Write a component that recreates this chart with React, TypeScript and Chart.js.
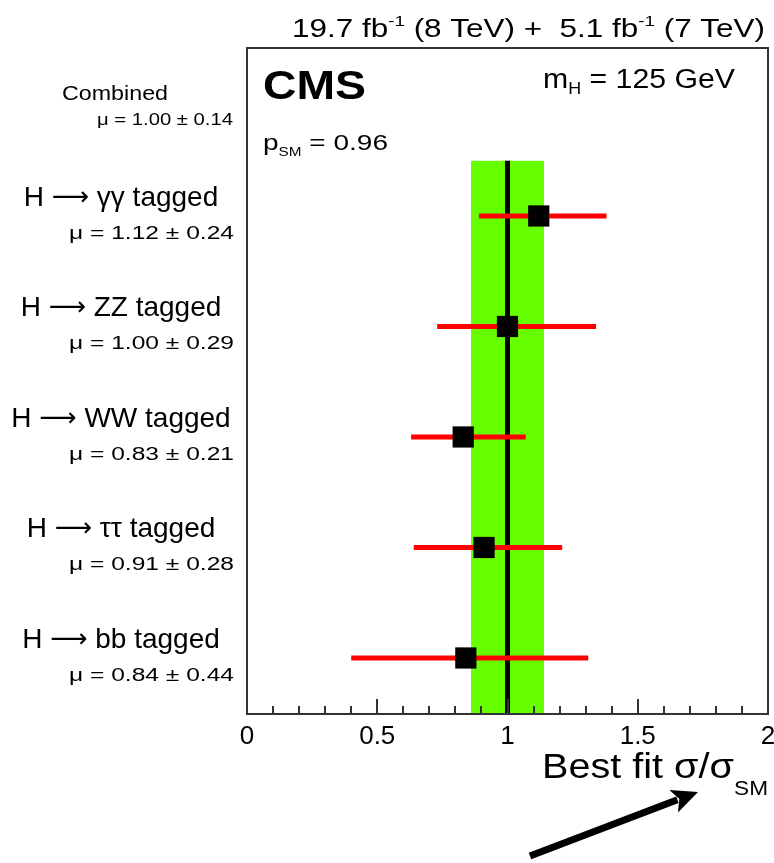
import React, { useEffect, useRef } from 'react';
import { Chart, registerables } from 'chart.js';
Chart.register(...registerables);

// ---------------- data ----------------
const channelHead = 'H';
const channelTails = ['γγ tagged', 'ZZ tagged', 'WW tagged', 'ττ tagged', 'bb tagged'];
const muTexts = ['μ = 1.12 ± 0.24', 'μ = 1.00 ± 0.29', 'μ = 0.83 ± 0.21', 'μ = 0.91 ± 0.28', 'μ = 0.84 ± 0.44'];
const bestFit = [1.12, 1.0, 0.83, 0.91, 0.84];
const errLow = [0.89, 0.73, 0.63, 0.64, 0.4];
const errHigh = [1.38, 1.34, 1.07, 1.21, 1.31];
const combinedLabel = 'Combined';
const combinedMuText = 'μ = 1.00 ± 0.14';
const combinedBest = 1.0;
const combinedBand = [0.86, 1.14];
const xTickValues = [0, 0.5, 1, 1.5, 2];
const xTickLabels = ['0', '0.5', '1', '1.5', '2'];
const pSMValue = '0.96';
const mHValue = '125 GeV';

// ---------------- layout / style ----------------
const FONT = '"Liberation Sans", Arial, Helvetica, sans-serif';
const ARROW_FONT = '"DejaVu Sans", sans-serif';
const Y_MIN = -0.52;
const Y_MAX = 5.507;
const GREEN = '#66ff00';
const RED = '#ff0000';

type Seg = { t: string; size: number; dy?: number; bold?: boolean; family?: string };

function fontOf(s: Seg) {
  return `${s.bold ? 'bold ' : ''}${s.size}px ${s.family || FONT}`;
}

function drawRich(
  ctx: CanvasRenderingContext2D,
  segs: Seg[],
  x: number,
  y: number,
  align: 'left' | 'right' | 'center',
  width?: number
) {
  ctx.save();
  ctx.textBaseline = 'alphabetic';
  ctx.textAlign = 'left';
  ctx.fillStyle = '#000';
  const widths = segs.map((s) => {
    ctx.font = fontOf(s);
    return ctx.measureText(s.t).width;
  });
  const total = widths.reduce((a, b) => a + b, 0);
  const sx = width ? width / total : 1;
  const w = total * sx;
  const x0 = align === 'left' ? x : align === 'right' ? x - w : x - w / 2;
  ctx.translate(x0, y);
  ctx.scale(sx, 1);
  let cx = 0;
  segs.forEach((s, i) => {
    ctx.font = fontOf(s);
    ctx.fillText(s.t, cx, s.dy || 0);
    cx += widths[i];
  });
  ctx.restore();
}

const decorPlugin = {
  id: 'decor',
  afterDraw(chart: any) {
    const ctx: CanvasRenderingContext2D = chart.ctx;
    const { left, right, top, bottom } = chart.chartArea;
    const xs = chart.scales.x;
    const ys = chart.scales.y;

    // inner ticks on the bottom axis
    ctx.save();
    ctx.strokeStyle = '#333';
    ctx.lineWidth = 2;
    for (let k = 1; k < 20; k++) {
      const v = k / 10;
      const px = Math.round(xs.getPixelForValue(v));
      const len = k % 5 === 0 ? 15 : 8;
      ctx.beginPath();
      ctx.moveTo(px, bottom);
      ctx.lineTo(px, bottom - len);
      ctx.stroke();
    }
    // frame
    ctx.strokeStyle = '#333';
    ctx.lineWidth = 2;
    ctx.strokeRect(left, top, right - left, bottom - top);
    ctx.restore();

    // x tick labels
    ctx.save();
    ctx.fillStyle = '#000';
    ctx.font = `26px ${FONT}`;
    ctx.textAlign = 'center';
    ctx.textBaseline = 'middle';
    xTickValues.forEach((v, i) => {
      ctx.fillText(xTickLabels[i], xs.getPixelForValue(v), bottom + 23);
    });
    ctx.restore();

    // header texts
    drawRich(
      ctx,
      [
        { t: '19.7 fb', size: 25 },
        { t: '-1', size: 15, dy: -11 },
        { t: ' (8 TeV) +  5.1 fb', size: 25 },
        { t: '-1', size: 15, dy: -11 },
        { t: ' (7 TeV)', size: 25 },
      ],
      292,
      37,
      'left',
      473
    );
    drawRich(ctx, [{ t: 'CMS', size: 40, bold: true }], left + 16, 99, 'left', 103);
    drawRich(
      ctx,
      [
        { t: 'm', size: 27 },
        { t: 'H', size: 16, dy: 6 },
        { t: ' = ' + mHValue, size: 27 },
      ],
      543,
      88,
      'left',
      192
    );
    drawRich(
      ctx,
      [
        { t: 'p', size: 22 },
        { t: 'SM', size: 12, dy: 6 },
        { t: ' = ' + pSMValue, size: 22 },
      ],
      left + 16,
      150,
      'left',
      125
    );

    // left labels
    const y0 = ys.getPixelForValue(0);
    drawRich(ctx, [{ t: combinedLabel, size: 21 }], 115, y0 - 5.5, 'center', 106);
    drawRich(ctx, [{ t: combinedMuText, size: 16 }], 233, y0 + 19.5, 'right', 136);
    channelTails.forEach((tail, i) => {
      const py = ys.getPixelForValue(i + 1);
      drawRich(
        ctx,
        [
          { t: channelHead + ' ', size: 28 },
          { t: '⟶', size: 26, family: ARROW_FONT, dy: -1 },
          { t: ' ' + tail, size: 28 },
        ],
        121,
        py - 10,
        'center'
      );
      drawRich(ctx, [{ t: muTexts[i], size: 18 }], 234, py + 23, 'right', 165);
    });

    // axis title
    drawRich(
      ctx,
      [
        { t: 'Best fit σ/σ', size: 35 },
        { t: 'SM', size: 20, dy: 17 },
      ],
      542,
      778,
      'left',
      226
    );

    // arrow annotation
    const tail = { x: 530, y: 856 };
    const tip = { x: 698, y: 792 };
    const dx = tip.x - tail.x;
    const dy = tip.y - tail.y;
    const L = Math.hypot(dx, dy);
    const ux = dx / L;
    const uy = dy / L;
    const headLen = 26;
    const headHalf = 12;
    const bx = tip.x - ux * headLen;
    const by = tip.y - uy * headLen;
    ctx.save();
    ctx.strokeStyle = '#000';
    ctx.fillStyle = '#000';
    ctx.lineWidth = 7;
    ctx.lineCap = 'butt';
    ctx.beginPath();
    ctx.moveTo(tail.x, tail.y);
    ctx.lineTo(bx + ux * 4, by + uy * 4);
    ctx.stroke();
    ctx.beginPath();
    ctx.moveTo(tip.x, tip.y);
    ctx.lineTo(bx - uy * headHalf, by + ux * headHalf);
    ctx.lineTo(bx + ux * 6, by + uy * 6);
    ctx.lineTo(bx + uy * headHalf, by - ux * headHalf);
    ctx.closePath();
    ctx.fill();
    ctx.restore();
  },
};

export default function App() {
  const ref = useRef<HTMLCanvasElement | null>(null);
  useEffect(() => {
    if (!ref.current) return;
    const datasets: any[] = [];
    // combined band
    datasets.push({
      type: 'line',
      data: [
        { x: combinedBand[0], y: 0.5 },
        { x: combinedBand[1], y: 0.5 },
      ],
      fill: { value: Y_MAX },
      backgroundColor: GREEN,
      borderWidth: 0,
      borderColor: 'rgba(0,0,0,0)',
      pointRadius: 0,
      order: 10,
    });
    // combined central line
    datasets.push({
      type: 'line',
      data: [
        { x: combinedBest, y: 0.5 },
        { x: combinedBest, y: Y_MAX },
      ],
      borderColor: '#000',
      borderWidth: 5,
      pointRadius: 0,
      fill: false,
      order: 9,
    });
    // error bars
    channelTails.forEach((_, i) => {
      datasets.push({
        type: 'line',
        data: [
          { x: errLow[i], y: i + 1 },
          { x: errHigh[i], y: i + 1 },
        ],
        borderColor: RED,
        borderWidth: 5,
        borderCapStyle: 'butt',
        pointRadius: 0,
        fill: false,
        order: 5,
      });
    });
    // best fit markers
    datasets.push({
      type: 'scatter',
      data: bestFit.map((v, i) => ({ x: v, y: i + 1 })),
      pointStyle: 'rect',
      radius: 15,
      backgroundColor: '#000',
      borderColor: '#000',
      borderWidth: 0,
      order: 1,
    });

    const chart = new Chart(ref.current, {
      type: 'scatter',
      data: { datasets },
      options: {
        animation: false,
        responsive: false,
        layout: { autoPadding: false, padding: { left: 247, right: 6, top: 48, bottom: 149 } },
        plugins: { legend: { display: false }, tooltip: { enabled: false } },
        scales: {
          x: { type: 'linear', min: 0, max: 2, display: false },
          y: { type: 'linear', min: Y_MIN, max: Y_MAX, reverse: true, display: false },
        },
      } as any,
      plugins: [decorPlugin],
    });
    return () => chart.destroy();
  }, []);

  return (
    <div style={{ position: 'fixed', left: 0, top: 0, width: 774, height: 863, background: '#fff' }}>
      <canvas ref={ref} width={774} height={863} style={{ display: 'block' }} />
    </div>
  );
}
